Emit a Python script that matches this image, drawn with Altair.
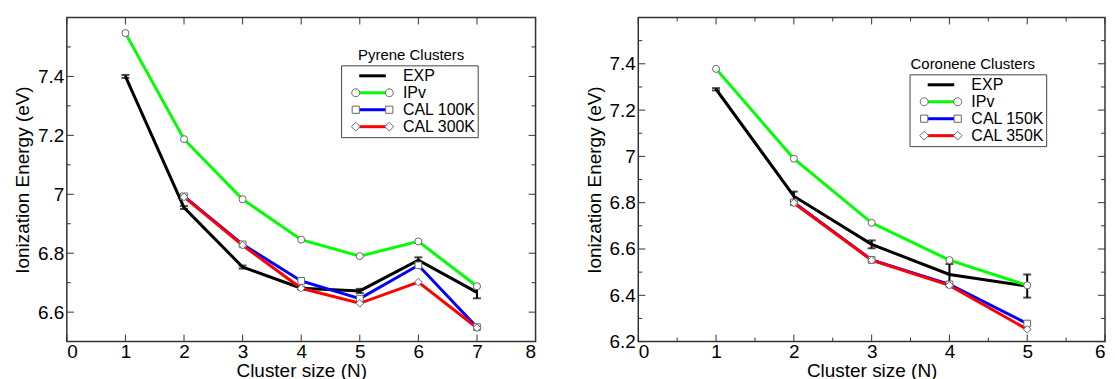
import altair as alt
import pandas as pd

F = "Liberation Sans"

# ---------------- data ----------------
pyr_names = ["EXP", "IPv", "CAL 100K", "CAL 300K"]
pyr_n = [1, 2, 3, 4, 5, 6, 7]
pyr_exp = [7.40, 6.955, 6.753, 6.681, 6.672, 6.776, 6.667]
pyr_exp_err = [0.005, 0.005, 0.005, 0.004, 0.007, 0.010, 0.020]
pyr_ipv = [7.547, 7.187, 6.983, 6.846, 6.790, 6.840, 6.688]
pyr_cal_n = [2, 3, 4, 5, 6, 7]
pyr_cal_a = [6.993, 6.830, 6.706, 6.646, 6.759, 6.549]
pyr_cal_b = [6.991, 6.827, 6.681, 6.630, 6.702, 6.547]

cor_names = ["EXP", "IPv", "CAL 150K", "CAL 350K"]
cor_n = [1, 2, 3, 4, 5]
cor_exp = [7.29, 6.828, 6.620, 6.490, 6.440]
cor_exp_err = [0.005, 0.020, 0.017, 0.045, 0.050]
cor_ipv = [7.378, 6.990, 6.713, 6.552, 6.443]
cor_cal_n = [2, 3, 4, 5]
cor_cal_a = [6.801, 6.553, 6.447, 6.278]
cor_cal_b = [6.799, 6.552, 6.443, 6.253]

# axis tick values
pyr_x_major = [0, 1, 2, 3, 4, 5, 6, 7, 8]
pyr_x_minor = []
pyr_y_major = [6.6, 6.8, 7.0, 7.2, 7.4]
pyr_y_minor = [6.7, 6.9, 7.1, 7.3, 7.5]
cor_x_major = [0, 1, 2, 3, 4, 5, 6]
cor_x_minor = [0.5, 1.5, 2.5, 3.5, 4.5, 5.5]
cor_y_major = [6.2, 6.4, 6.6, 6.8, 7.0, 7.2, 7.4]
cor_y_minor = [6.3, 6.5, 6.7, 6.9, 7.1, 7.3, 7.5]

COLORS = ["#000000", "#00ff00", "#0000ff", "#ff0000"]
MARKER_EDGE = ["#666666", "#666666", "#666666", "#666666"]

# legend symbol paths
# line legend: symbolSize 196 -> 7 px per unit
LINE_PATH = "M-1.9,0L1.9,0"
# marker legend: symbolSize 256 -> 8 px per unit
CIRC2 = ("M-2.6,0A0.5,0.5 0 1,0 -1.6,0A0.5,0.5 0 1,0 -2.6,0Z"
         "M1.6,0A0.5,0.5 0 1,0 2.6,0A0.5,0.5 0 1,0 1.6,0Z")
SQR2 = ("M-2.55,-0.45L-1.65,-0.45L-1.65,0.45L-2.55,0.45Z"
        "M1.65,-0.45L2.55,-0.45L2.55,0.45L1.65,0.45Z")
DIA2 = ("M-2.1,-0.55L-1.55,0L-2.1,0.55L-2.65,0Z"
        "M2.1,-0.55L2.65,0L2.1,0.55L1.55,0Z")
NONE_PATH = "M0,0"


def panel(names, n, exp, err, ipv, cal_n, cal_a, cal_b, xdom, ydom,
          xmaj, xmin, ymaj, ymin, ylabels, leg_title, lx, ly, tx, W, H):
    rows = []
    for xi, vi in zip(n, exp):
        rows.append({"n": xi, "v": vi, "series": names[0]})
    for xi, vi in zip(n, ipv):
        rows.append({"n": xi, "v": vi, "series": names[1]})
    for xi, vi in zip(cal_n, cal_a):
        rows.append({"n": xi, "v": vi, "series": names[2]})
    for xi, vi in zip(cal_n, cal_b):
        rows.append({"n": xi, "v": vi, "series": names[3]})
    df = pd.DataFrame(rows)
    # separate copy of the names so the marker legend stays its own legend
    mnames = [s + " " for s in names]
    df["marker"] = df["series"] + " "

    err_df = pd.DataFrame({"n": n, "v": exp, "e": err})
    err_df["lo"] = err_df["v"] - err_df["e"]
    err_df["hi"] = err_df["v"] + err_df["e"]

    xs = alt.Scale(domain=xdom, nice=False, zero=False)
    ys = alt.Scale(domain=ydom, nice=False, zero=False)
    xaxis = alt.Axis(values=xmaj, title="Cluster size (N)", grid=False, ticks=False,
                     domain=False, tickSize=0, labelPadding=1,
                     titleBaseline="alphabetic", titleY=35, format="~g")
    yaxis = alt.Axis(values=ylabels, title="Ionization Energy (eV)", grid=False,
                     ticks=False, domain=False, tickSize=0, labelPadding=3,
                     titleBaseline="alphabetic", titleX=-38, format="~g")
    X = alt.X("n:Q", scale=xs, axis=xaxis)
    Y = alt.Y("v:Q", scale=ys, axis=yaxis)

    tick_col = "#333333"
    layers = []
    # inward frame ticks
    for vals, L in ((xmaj, 7), (xmin, 4)):
        if not vals:
            continue
        tdf = pd.DataFrame({"n": vals})
        b = alt.Chart(tdf)
        layers.append(b.mark_rule(color=tick_col, strokeWidth=1).encode(
            x=X, y=alt.value(H), y2=alt.value(H - L)))
        layers.append(b.mark_rule(color=tick_col, strokeWidth=1).encode(
            x=X, y=alt.value(0), y2=alt.value(L)))
    for vals, L in ((ymaj, 7), (ymin, 4)):
        tdf = pd.DataFrame({"v": vals})
        b = alt.Chart(tdf)
        layers.append(b.mark_rule(color=tick_col, strokeWidth=1).encode(
            y=Y, x=alt.value(0), x2=alt.value(L)))
        layers.append(b.mark_rule(color=tick_col, strokeWidth=1).encode(
            y=Y, x=alt.value(W), x2=alt.value(W - L)))

    base = alt.Chart(df)

    legA = alt.Legend(
        title=leg_title, orient="none", legendX=tx - 2, legendY=ly - 19, padding=2,
        titleFont=F, titleFontSize=15, titleFontWeight="normal", titleColor="black",
        titleAnchor="start", titlePadding=4,
        labelFont=F, labelFontSize=16, labelExpr="''", labelOffset=22,
        symbolType=LINE_PATH, symbolSize=196, symbolOffset=lx + 23 - tx,
        symbolStrokeWidth=3, symbolOpacity=1, rowPadding=0)
    lines = base.mark_line(strokeWidth=3).encode(
        x=X, y=Y,
        color=alt.Color("series:N", scale=alt.Scale(domain=names, range=COLORS),
                        legend=legA, sort=names))
    layers.append(lines)

    eb = alt.Chart(err_df)
    layers.append(eb.mark_rule(color="black", strokeWidth=2).encode(
        x=X, y=alt.Y("lo:Q", scale=ys, axis=yaxis), y2="hi:Q"))
    layers.append(eb.mark_tick(color="black", orient="horizontal", size=8, thickness=2).encode(
        x=X, y=alt.Y("lo:Q", scale=ys, axis=yaxis)))
    layers.append(eb.mark_tick(color="black", orient="horizontal", size=8, thickness=2).encode(
        x=X, y=alt.Y("hi:Q", scale=ys, axis=yaxis)))

    for name, shp, size in ((names[1], "circle", 50), (names[2], "square", 45),
                            (names[3], "diamond", 60)):
        layers.append(base.transform_filter(alt.datum.series == name).mark_point(
            shape=shp, filled=True, fill="white", stroke="#666666", strokeWidth=1,
            size=size, opacity=1).encode(x=X, y=Y))

    def legB():
        return alt.Legend(
            title=None, orient="none", legendX=lx, legendY=ly, padding=2,
            strokeColor="#444444",
            labelFont=F, labelFontSize=16, labelColor="black", labelOffset=22,
            symbolSize=256, symbolOffset=21, rowPadding=0,
            symbolFillColor="white", symbolStrokeWidth=1, symbolOpacity=1)
    layers.append(base.transform_filter("false").mark_point(
        filled=True, fill="white", strokeWidth=1, opacity=1, size=256).encode(
        x=X, y=Y,
        stroke=alt.Stroke("marker:N", scale=alt.Scale(domain=mnames, range=MARKER_EDGE),
                          legend=legB(), sort=mnames),
        shape=alt.Shape("marker:N", scale=alt.Scale(domain=mnames,
                        range=[NONE_PATH, CIRC2, SQR2, DIA2]),
                        legend=legB(), sort=mnames)))

    return alt.layer(*layers).properties(width=W, height=H)


left = panel(pyr_names, pyr_n, pyr_exp, pyr_exp_err, pyr_ipv, pyr_cal_n, pyr_cal_a,
             pyr_cal_b, [0, 8], [6.5, 7.6], pyr_x_major, pyr_x_minor, pyr_y_major,
             pyr_y_minor, pyr_y_major, "Pyrene Clusters", 275, 48, 292, 470, 325)
right = panel(cor_names, cor_n, cor_exp, cor_exp_err, cor_ipv, cor_cal_n, cor_cal_a,
              cor_cal_b, [0, 6], [6.2, 7.6], cor_x_major, cor_x_minor, cor_y_major,
              cor_y_minor, cor_y_major, "Coronene Clusters", 272, 57, 273, 468, 325)

chart = alt.hconcat(left, right, spacing=103, bounds="flush").resolve_scale(
    color="independent", shape="independent", stroke="independent").properties(
    padding={"left": 5, "top": 7, "right": 0, "bottom": 0}, background="white"
).configure_view(stroke="#333333", strokeWidth=1.5).configure_axis(
    labelFont=F, titleFont=F, labelFontSize=19, titleFontSize=19,
    titleFontWeight="normal", labelColor="black", titleColor="black"
)

chart.save("out.html", embed_options={"renderer": "svg", "actions": False})
